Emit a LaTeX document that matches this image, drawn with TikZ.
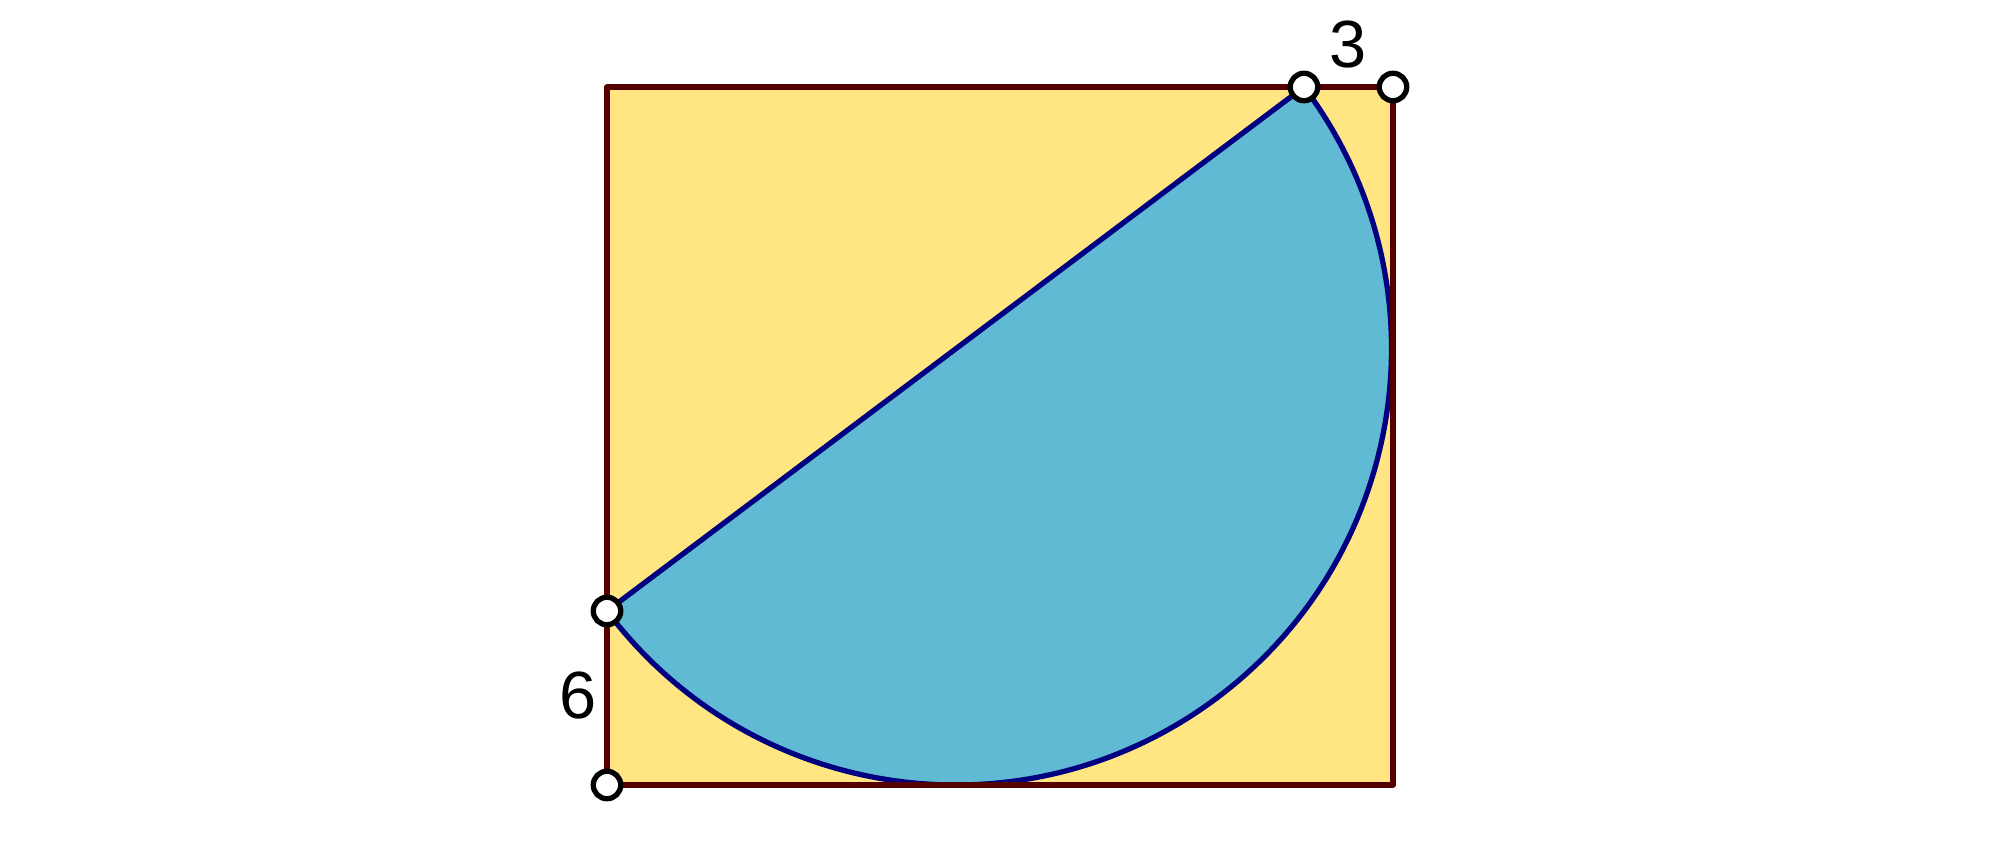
\documentclass[tikz,border=0pt]{standalone}
\usepackage{fontspec}
\setmainfont{Liberation Sans}
\usetikzlibrary{positioning}
\definecolor{boxfill}{RGB}{255,230,130}
\definecolor{boxline}{RGB}{85,0,0}
\definecolor{halffill}{RGB}{96,186,211}
\definecolor{halfline}{RGB}{0,0,128}
\begin{document}
\begin{tikzpicture}
\tikzstyle{pt}=[circle,draw=black,fill=white,line width=1.5pt,
inner sep=0pt,outer sep=0pt,minimum size=2.75mm]
\tikzstyle{lbl}=[font=\fontsize{19}{22}\selectfont,inner sep=0pt]
\useasboundingbox (0,0) rectangle (20,8.57);
\coordinate (A) at (6.07,0.72);
\coordinate (B) at (13.93,0.72);
\coordinate (C) at (13.93,7.70);
\coordinate (D) at (6.07,7.70);
\coordinate (P) at (6.07,2.46);
\coordinate (Q) at (13.04,7.70);

\fill[boxfill] (A) rectangle (C);
\fill[halffill] (P) arc[start angle=216.94,end angle=396.94,radius=4.36] -- cycle;
\draw[halfline,line width=1.5pt] (P) arc[start angle=216.94,end angle=396.94,radius=4.36];
\draw[halfline,line width=1.5pt] (P) -- (Q);
\draw[boxline,line width=1.6pt,line join=round] (A) -- (B) -- (C) -- (D) -- cycle;

\node[pt] at (A) (a) {};
\node[pt] at (C) (c) {};
\node[pt] at (P) (p) {};
\node[pt] at (Q) (q) {};
\node[lbl] at (13.48,8.12) (l3) {3};
\node[lbl] at (5.78,1.61) (l6) {6};
\end{tikzpicture}
\end{document}
